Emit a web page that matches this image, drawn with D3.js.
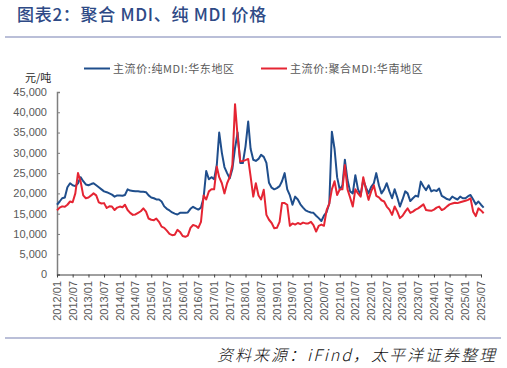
<!DOCTYPE html>
<html><head><meta charset="utf-8">
<script src="https://cdn.jsdelivr.net/npm/d3@7"></script>
<style>
body{margin:0;background:#fff;}
svg{display:block;}
</style></head>
<body>
<svg id="c" width="507" height="368"></svg>
<script>
// ---- data ----
const startMonth = "2012-01";
const seriesNames = ["主流价:纯MDI:华东地区", "主流价:聚合MDI:华南地区"];
// 纯MDI 华东 (monthly, 2012/01 - 2025/08)
const pureMDI = [
 17200,18000,18800,19000,21500,22500,22000,21800,22500,24000,23000,22200,
 22000,22300,22500,22000,21500,21000,20500,20300,20000,19700,19200,19500,
 19500,19400,19600,21000,20700,20600,20500,20500,20400,20400,20300,19500,
 19000,18800,18500,18500,18000,16800,16200,15800,15300,15000,14800,15200,
 15200,15200,15300,16200,16700,16300,16000,16500,19000,25500,23500,24000,
 23500,27000,35000,30000,26500,25000,23700,26000,31200,35000,27500,27500,
 31600,37700,31000,28300,28000,28500,29500,29000,27500,22600,21400,21000,
 21300,21800,23000,25000,21000,19500,17200,19200,18500,17300,16500,15800,
 15500,15300,15200,14500,13900,13200,14500,15400,17500,35200,31000,24000,
 20900,22000,28300,23300,20500,20000,24500,21000,19600,23300,21500,20000,
 21600,22500,25000,22000,20000,21000,22500,20500,18800,21000,19000,16750,
 18500,20500,20000,18100,18800,19400,19200,22900,21700,20800,22000,20500,
 20800,20600,21200,19400,19000,18600,18400,19200,18800,18500,19200,18800,
 18800,19300,19600,18500,17300,18000,17200,16500
];
// 聚合MDI 华南
const polyMDI = [
 15800,16500,16800,16700,17200,18000,17800,20000,25000,23000,19500,18800,
 19000,19500,20000,19500,17800,17500,17600,16400,16800,16750,15900,16500,
 16750,16600,17200,15900,15200,14700,14800,15200,15600,16300,15500,13800,
 13500,13400,13800,13000,11800,11500,10800,10000,9700,9800,11000,10500,
 9500,9300,9600,11500,12200,12000,11500,13000,19500,18500,20500,21000,
 21000,26600,24000,22500,20000,22500,24000,27000,42000,34000,27900,28000,
 28200,28500,24200,19200,22500,19500,18500,20900,14700,13500,12700,11400,
 11500,13000,17600,17600,17200,12000,12600,12300,12700,12400,12800,12600,
 12600,13000,12200,10600,12000,12300,12000,15900,17500,21000,23000,19600,
 21000,21000,27000,21000,19000,16750,21000,20000,19200,24000,21000,18400,
 20500,22000,19400,19000,18300,18000,16750,16000,14700,16750,15500,13900,
 14500,15500,16300,15200,15500,16000,16300,16800,17300,15900,15800,15700,
 16000,16500,16750,15900,16200,16800,17300,17500,17700,17600,17800,18000,
 18200,18400,18800,15500,14400,16300,15800,15100
];
const yTicks = [0,5000,10000,15000,20000,25000,30000,35000,40000,45000];
const xTickLabels = ["2012/01","2012/07","2013/01","2013/07","2014/01","2014/07",
 "2015/01","2015/07","2016/01","2016/07","2017/01","2017/07","2018/01","2018/07",
 "2019/01","2019/07","2020/01","2020/07","2021/01","2021/07","2022/01","2022/07",
 "2023/01","2023/07","2024/01","2024/07","2025/01","2025/07"];

// ---- drawing ----
const svg = d3.select("#c");
const parse = d3.timeParse("%Y-%m");
const parseTick = d3.timeParse("%Y/%m");
const t0 = parse(startMonth);
const dates = pureMDI.map((_, i) => d3.timeMonth.offset(t0, i));

const x = d3.scaleTime()
  .domain([parseTick(xTickLabels[0]), parseTick(xTickLabels[xTickLabels.length-1])])
  .range([57, 481]);
const y = d3.scaleLinear().domain([0, 45000]).range([274.5, 92]);

const cjk = "'Noto Sans CJK SC','Noto Sans',sans-serif";
const lat = "'Liberation Sans',Arial,sans-serif";
const gray = "#595959";

// title
svg.append("text").attr("x", 17).attr("y", 21)
  .attr("font-family", cjk).attr("font-size", 17).attr("font-weight", 500)
  .attr("fill", "#2E4A86").attr("letter-spacing", 0.7)
  .text("图表2：聚合 MDI、纯 MDI 价格");
svg.append("line").attr("x1", 5).attr("x2", 501).attr("y1", 37).attr("y2", 37)
  .attr("stroke", "#A3AACB").attr("stroke-width", 1.5);

// legend
const colors = ["#1F4E8C", "#E52533"];
const legX = [84, 261];
seriesNames.forEach((n, i) => {
  svg.append("line").attr("x1", legX[i]).attr("x2", legX[i] + 26)
    .attr("y1", 68.5).attr("y2", 68.5).attr("stroke", colors[i]).attr("stroke-width", 2);
  svg.append("text").attr("x", legX[i] + 29).attr("y", 72.5)
    .attr("font-family", cjk).attr("font-size", 11).attr("fill", gray)
    .attr("letter-spacing", 0.6).text(n);
});

// unit
svg.append("text").attr("x", 25).attr("y", 81.5)
  .attr("font-family", cjk).attr("font-size", 11).attr("fill", "#262626").text("元/吨");

// y axis
const yAxis = svg.append("g").attr("transform", "translate(57,0)")
  .call(d3.axisRight(y).tickValues(yTicks).tickSize(3).tickFormat(""));
yAxis.select(".domain").attr("stroke", "#7F7F7F").attr("stroke-width", 1.5);
yAxis.selectAll(".tick line").attr("stroke", "#7F7F7F");
yTicks.forEach(v => {
  svg.append("text").attr("x", 47).attr("y", y(v)).attr("dy", "0.35em")
    .attr("text-anchor", "end").attr("font-family", lat).attr("font-size", 11)
    .attr("fill", gray).text(d3.format(",")(v));
});

// x axis
const xAxis = svg.append("g").attr("transform", "translate(0,274.5)")
  .call(d3.axisBottom(x).tickValues(xTickLabels.map(parseTick)).tickSize(3)
    .tickSizeOuter(0).tickFormat(""));
xAxis.select(".domain").attr("stroke", "#404040").attr("stroke-width", 1);
xAxis.selectAll(".tick line").attr("stroke", "#404040");
xTickLabels.forEach(l => {
  const xp = x(parseTick(l));
  svg.append("text").attr("transform", `translate(${xp},281) rotate(-90)`)
    .attr("dy", "0.35em").attr("text-anchor", "end")
    .attr("font-family", lat).attr("font-size", 11).attr("fill", gray).text(l);
});

// lines
const line = d3.line().x((d, i) => x(dates[i])).y(d => y(d));
[pureMDI, polyMDI].forEach((s, i) => {
  svg.append("path").datum(s).attr("d", line).attr("fill", "none")
    .attr("stroke", colors[i]).attr("stroke-width", 2).attr("stroke-linejoin", "round");
});

// bottom rule & source
svg.append("line").attr("x1", 5).attr("x2", 501).attr("y1", 338).attr("y2", 338)
  .attr("stroke", "#A3AACB").attr("stroke-width", 1.5);
svg.append("text").attr("x", 497).attr("y", 361).attr("text-anchor", "end")
  .attr("font-family", cjk).attr("font-size", 16).attr("font-style", "italic")
  .attr("font-weight", 300).attr("letter-spacing", 2)
  .attr("fill", "#111").text("资料来源：iFind，太平洋证券整理");
</script>
</body></html>
